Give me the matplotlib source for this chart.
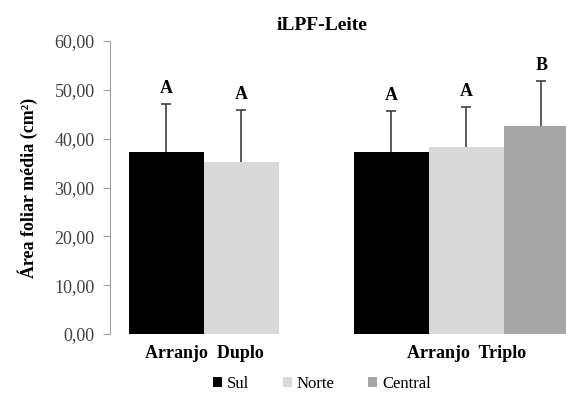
import numpy as np
import matplotlib.pyplot as plt

plt.rcParams['font.family'] = 'Liberation Serif'

arranjos = ['Arranjo  Duplo', 'Arranjo  Triplo']
series = ['Sul', 'Norte', 'Central']
cores = ['#000000', '#d9d9d9', '#a6a6a6']

# medias e desvio (so para cima)
duplo_med = [37.3, 35.2]
duplo_dp = [9.9, 10.7]
duplo_let = ['A', 'A']
triplo_med = [37.3, 38.3, 42.5]
triplo_dp = [8.4, 8.1, 9.4]
triplo_let = ['A', 'A', 'B']

fig = plt.figure(figsize=(5.66, 3.98), dpi=100)
ax = fig.add_axes([110/566, 64/398, 1 - 110/566, (334 - 41)/398])

w = 1.0
centros = [0.0, 3.5]
grupos = [(duplo_med, duplo_dp, duplo_let), (triplo_med, triplo_dp, triplo_let)]

for c, (med, dp, let) in zip(centros, grupos):
    n = len(med)
    xs = c + (np.arange(n) - (n - 1) / 2) * w
    for i in range(n):
        ax.bar(xs[i], med[i], width=w, color=cores[i], zorder=2)
        eb = ax.errorbar(xs[i], med[i], yerr=[[0], [dp[i]]], fmt='none',
                         ecolor='#404040', elinewidth=1.2, capsize=3.5, capthick=1.2, zorder=3)
        eb[1][0].set_visible(False)  # sem traco embaixo
        ax.annotate(let[i], (xs[i], med[i] + dp[i]), xytext=(0, 5),
                    textcoords='offset points', ha='center', va='bottom',
                    fontsize=13, fontweight='bold')

# legenda
for i, s in enumerate(series):
    ax.bar(0, 0, color=cores[i], label=s)

ax.set_xlim(-1.253, 4.83)
ax.set_ylim(0, 60)
ax.set_yticks(np.arange(0, 61, 10))
ax.set_yticklabels([('%.2f' % v).replace('.', ',') for v in np.arange(0, 61, 10)])
ax.set_xticks(centros)
ax.set_xticklabels(arranjos, fontsize=13, fontweight='bold')
ax.tick_params(axis='x', length=0, pad=8)
ax.tick_params(axis='y', length=5, color='#a0a0a0', labelsize=13, labelcolor='#404040', pad=6)
for s in ['top', 'right', 'bottom']:
    ax.spines[s].set_visible(False)
ax.spines['left'].set_color('#a0a0a0')

ax.set_ylabel('Área foliar média (cm²)', fontsize=13, fontweight='bold')
ax.yaxis.set_label_coords(-0.157, 0.5)
fig.text(322/566, 1 - 25/398, 'iLPF-Leite', ha='center', va='center',
         fontsize=14, fontweight='bold')

fig.legend(loc='center', bbox_to_anchor=(322/566, 1 - 384/398), ncol=3, frameon=False,
           handlelength=0.55, handleheight=0.55, handletextpad=0.3, columnspacing=2.0,
           fontsize=12)

fig.savefig('out.png', dpi=100)
